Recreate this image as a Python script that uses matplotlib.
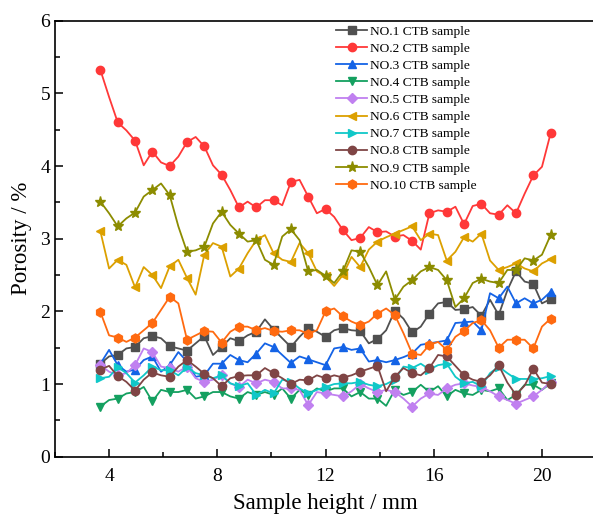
import matplotlib
matplotlib.use('Agg')
import numpy as np
import matplotlib.pyplot as plt
from matplotlib.ticker import MultipleLocator

plt.rcParams['font.family'] = ['Liberation Serif', 'DejaVu Serif']

# sample heights (mm), evenly spaced scan positions
height = np.linspace(3.68, 20.32, 53)

no1 = [1.28, 1.38, 1.40, 1.49, 1.51, 1.63, 1.66, 1.63, 1.52, 1.49, 1.46, 1.56, 1.66, 1.40,
       1.51, 1.63, 1.59, 1.67, 1.72, 1.89, 1.75, 1.63, 1.51, 1.65, 1.77, 1.72, 1.65, 1.74,
       1.77, 1.74, 1.73, 1.56, 1.62, 1.74, 2.01, 1.90, 1.71, 1.79, 1.97, 2.11, 2.13, 2.02,
       2.03, 2.06, 1.94, 2.16, 1.95, 2.29, 2.55, 2.41, 2.38, 2.11, 2.17]
no2 = [5.32, 4.95, 4.60, 4.49, 4.35, 4.01, 4.20, 4.05, 4.00, 4.13, 4.33, 4.40, 4.27, 4.01,
       3.88, 3.67, 3.43, 3.51, 3.43, 3.53, 3.53, 3.46, 3.78, 3.81, 3.58, 3.35, 3.41, 3.30,
       3.12, 2.98, 3.01, 3.16, 3.09, 3.10, 3.03, 3.05, 2.97, 2.85, 3.35, 3.39, 3.37, 3.44,
       3.20, 3.45, 3.48, 3.35, 3.33, 3.46, 3.35, 3.62, 3.87, 3.99, 4.45]
no3 = [1.28, 1.47, 1.26, 1.17, 1.20, 1.33, 1.38, 1.17, 1.26, 1.44, 1.31, 1.10, 1.12, 1.28,
       1.28, 1.40, 1.33, 1.30, 1.42, 1.56, 1.51, 1.40, 1.29, 1.38, 1.34, 1.30, 1.26, 1.49,
       1.51, 1.47, 1.49, 1.31, 1.33, 1.30, 1.33, 1.37, 1.42, 1.54, 1.56, 1.58, 1.60, 1.84,
       1.85, 1.86, 1.74, 2.25, 2.18, 2.34, 2.11, 2.18, 2.11, 2.16, 2.27]
no4 = [0.69, 0.78, 0.80, 0.87, 0.89, 0.96, 0.76, 0.92, 0.89, 0.89, 0.92, 0.80, 0.83, 0.89,
       0.89, 0.83, 0.80, 0.89, 0.85, 0.89, 0.85, 0.94, 0.80, 0.92, 0.85, 0.94, 0.90, 0.94,
       0.94, 0.83, 0.89, 0.80, 0.80, 0.70, 0.92, 0.85, 0.89, 0.99, 0.89, 0.97, 0.83, 0.92,
       0.87, 0.85, 0.92, 0.90, 0.94, 0.78, 0.85, 0.99, 0.99, 0.92, 1.01]
no5 = [1.26, 1.17, 1.12, 1.15, 1.26, 1.49, 1.44, 1.24, 1.22, 1.17, 1.24, 1.08, 1.03, 1.06,
       1.12, 1.01, 0.96, 1.06, 1.01, 1.06, 1.03, 0.94, 0.94, 0.92, 0.71, 0.89, 0.87, 0.85,
       0.83, 0.90, 1.00, 0.94, 0.89, 0.92, 0.89, 0.80, 0.69, 0.80, 0.87, 0.85, 0.94, 0.99,
       1.01, 0.98, 0.96, 0.90, 0.83, 0.78, 0.73, 0.78, 0.83, 0.92, 1.03]
no6 = [3.10, 2.59, 2.71, 2.64, 2.33, 2.61, 2.50, 2.32, 2.62, 2.71, 2.46, 2.23, 2.78, 2.94,
       2.89, 2.48, 2.59, 2.80, 2.98, 3.05, 2.80, 2.71, 2.68, 2.94, 2.80, 2.55, 2.48, 2.35,
       2.50, 2.75, 2.61, 2.85, 2.96, 3.02, 3.07, 3.12, 3.17, 2.98, 3.07, 3.05, 2.70, 2.82,
       3.02, 2.96, 3.07, 2.70, 2.57, 2.61, 2.66, 2.59, 2.55, 2.66, 2.72]
no7 = [1.08, 1.10, 1.23, 1.15, 1.02, 1.12, 1.24, 1.19, 1.19, 1.12, 1.23, 1.15, 1.12, 1.08,
       1.12, 1.01, 0.97, 1.01, 0.85, 0.92, 0.87, 1.06, 1.03, 0.94, 0.87, 0.92, 0.96, 1.00,
       1.01, 1.01, 1.03, 0.99, 0.97, 1.00, 1.06, 1.24, 1.22, 1.28, 1.20, 1.26, 1.28, 1.10,
       1.01, 1.03, 0.97, 1.15, 1.24, 1.15, 1.07, 1.07, 1.07, 1.08, 1.11]
no8 = [1.20, 1.25, 1.11, 1.03, 0.91, 1.06, 1.16, 1.12, 1.10, 1.24, 1.33, 1.24, 1.14, 1.08,
       0.97, 1.08, 1.11, 1.12, 1.12, 1.22, 1.15, 1.08, 1.00, 1.06, 1.05, 1.12, 1.08, 1.12,
       1.09, 1.12, 1.17, 1.21, 1.25, 0.90, 1.10, 1.22, 1.15, 1.12, 1.22, 1.40, 1.38, 1.25,
       1.12, 1.06, 1.03, 1.12, 1.26, 1.02, 0.85, 0.98, 1.21, 1.02, 1.00]
no9 = [3.51, 3.35, 3.17, 3.28, 3.36, 3.58, 3.67, 3.76, 3.60, 3.17, 2.82, 2.84, 2.89, 3.21,
       3.37, 3.19, 3.07, 2.96, 2.98, 2.71, 2.64, 3.03, 3.13, 2.98, 2.55, 2.57, 2.49, 2.39,
       2.55, 2.84, 2.82, 2.61, 2.36, 2.55, 2.16, 2.34, 2.43, 2.55, 2.61, 2.57, 2.43, 2.06,
       2.18, 2.39, 2.45, 2.41, 2.39, 2.57, 2.57, 2.73, 2.70, 2.78, 3.05]
no10 = [1.99, 1.67, 1.64, 1.58, 1.64, 1.74, 1.84, 2.02, 2.20, 2.11, 1.61, 1.67, 1.73, 1.72,
        1.57, 1.72, 1.79, 1.79, 1.74, 1.77, 1.73, 1.72, 1.74, 1.74, 1.69, 1.74, 2.00, 2.04,
        1.93, 1.86, 1.81, 1.86, 1.97, 2.04, 1.95, 1.70, 1.42, 1.40, 1.54, 1.58, 1.47, 1.65,
        1.73, 1.84, 1.88, 1.74, 1.50, 1.61, 1.61, 1.61, 1.49, 1.79, 1.90]

series = [no1, no2, no3, no4, no5, no6, no7, no8, no9, no10]
labels = ['NO.%d CTB sample' % i for i in range(1, 11)]
colors = ['#505050', '#ff3838', '#1463e6', '#14a060', '#c080f0',
          '#dca000', '#10c8c8', '#7f4545', '#8c8c00', '#ff6a10']
markers = ['s', 'o', '^', 'v', 'D', '<', '>', 'o', '*', 'h']
msizes = [5.5, 6, 6, 6, 5, 6, 6, 6, 8, 6.5]

fig = plt.figure(figsize=(5.93, 5.2), dpi=100)
ax = fig.add_axes([0.0927, 0.1217, 0.9125, 0.8385])

for y, lab, c, m, ms in zip(series, labels, colors, markers, msizes):
    ax.plot(height, y, color=c, lw=1.3, marker=m, markersize=ms,
            markevery=2, label=lab)

ax.set_xlim(2, 22)
ax.set_ylim(0, 6)
ax.xaxis.set_major_locator(MultipleLocator(4))
ax.xaxis.set_minor_locator(MultipleLocator(2))
ax.yaxis.set_major_locator(MultipleLocator(1))
ax.yaxis.set_minor_locator(MultipleLocator(0.5))
ax.tick_params(which='both', direction='in', labelsize=14, width=1.1)
ax.tick_params(which='major', length=6)
ax.tick_params(which='minor', length=3.5)
ax.tick_params(axis='x', pad=8)
for s in ax.spines.values():
    s.set_linewidth(1.2)
# the original picture is cropped just before the right frame line
ax.spines['right'].set_visible(False)

ax.set_xlabel('Sample height / mm', fontsize=16.5, labelpad=6)
ax.set_ylabel('Porosity / %', fontsize=16.5, labelpad=6)

ax.legend(loc='upper left', bbox_to_anchor=(0.505, 1.008), frameon=False,
          fontsize=9.6, handlelength=2.3, handletextpad=0.2, labelspacing=0.36,
          borderaxespad=0.2)

plt.savefig('out.png', dpi=100)
